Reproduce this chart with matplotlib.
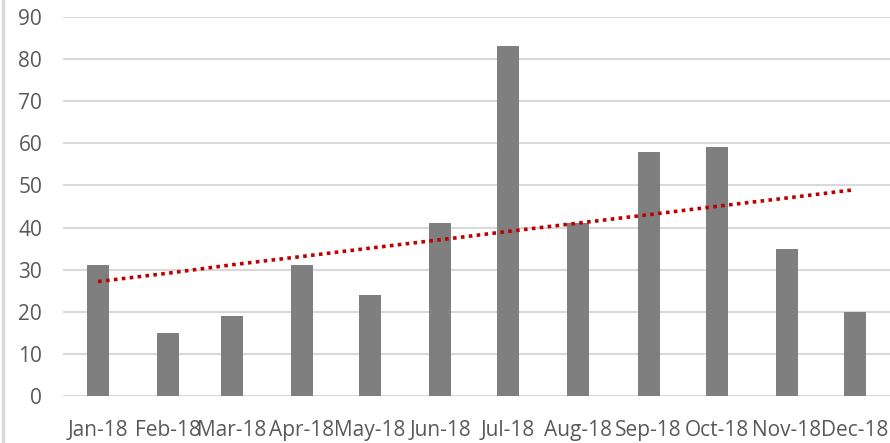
import matplotlib
matplotlib.use("Agg")
import matplotlib.pyplot as plt
import matplotlib.dates as mdates
import numpy as np
from datetime import datetime

# monthly counts for 2018
months = ["2018-01-01", "2018-02-01", "2018-03-01", "2018-04-01", "2018-05-01", "2018-06-01",
          "2018-07-01", "2018-08-01", "2018-09-01", "2018-10-01", "2018-11-01", "2018-12-01"]
values = [31, 15, 19, 31, 24, 41, 83, 41, 58, 59, 35, 20]
y_ticks = [0, 10, 20, 30, 40, 50, 60, 70, 80, 90]

dates = [datetime.strptime(m, "%Y-%m-%d") for m in months]
xnum = mdates.date2num(dates)

plt.rcParams['font.family'] = ['Open Sans', 'DejaVu Sans']

fig = plt.figure(figsize=(8.9, 4.43), dpi=100)
ax = fig.add_axes([0.0708, 0.106, 0.9292, 0.856])

ax.bar(xnum, values, width=9.7, color="#7f7f7f", zorder=2)

# linear trendline over the month index
idx = np.arange(1, len(values) + 1)
slope, intercept = np.polyfit(idx, values, 1)
trend = slope * idx + intercept
ax.plot(xnum, trend, linestyle=(0, (1, 1.2)), color="#c00000", linewidth=2.6, zorder=3)

ax.set_ylim(0, 90)
ax.set_yticks(y_ticks)
ax.set_xlim(xnum[0] - 15.5, xnum[-1] + 15.5)
ax.set_xticks(xnum)
ax.set_xticklabels([d.strftime("%b-%y") for d in dates])

ax.grid(axis="y", color="#d9d9d9", linewidth=1.5, zorder=0)
ax.set_axisbelow(True)
for s in ax.spines.values():
    s.set_visible(False)
ax.tick_params(axis="both", length=0, labelsize=15, labelcolor="#595959")
ax.tick_params(axis="y", pad=15)
ax.tick_params(axis="x", pad=17)

# chart border on the left edge
fig.add_artist(plt.Line2D([0.0035, 0.0035], [0, 1], transform=fig.transFigure,
                          color="#d9d9d9", linewidth=2.5))

fig.savefig("out.png", dpi=100)
